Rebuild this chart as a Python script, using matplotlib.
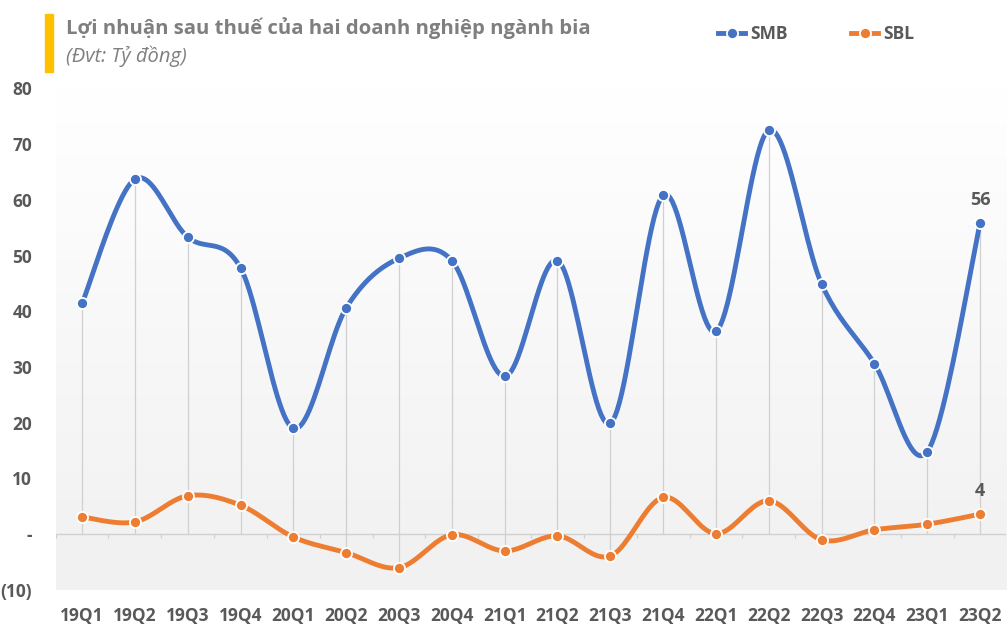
import numpy as np
import matplotlib
matplotlib.use('Agg')
import matplotlib.pyplot as plt
from matplotlib.lines import Line2D

## du lieu
quarters = ['19Q1', '19Q2', '19Q3', '19Q4', '20Q1', '20Q2', '20Q3', '20Q4', '21Q1',
            '21Q2', '21Q3', '21Q4', '22Q1', '22Q2', '22Q3', '22Q4', '23Q1', '23Q2']
smb = [41.4, 63.7, 53.3, 47.8, 19.0, 40.6, 49.5, 49.1, 28.3,
       49.1, 19.9, 60.8, 36.4, 72.5, 44.9, 30.6, 14.8, 55.8]
sbl = [3.1, 2.2, 6.9, 5.2, -0.5, -3.3, -6.0, -0.1, -3.0,
       -0.3, -3.9, 6.6, 0.1, 6.0, -1.0, 0.8, 1.8, 3.6]
yticks = [-10, 0, 10, 20, 30, 40, 50, 60, 70, 80]
ytick_labels = ['(10)', '-', '10', '20', '30', '40', '50', '60', '70', '80']

c_smb = '#4472C4'
c_sbl = '#ED7D31'
c_text = '#595959'


def smooth(x, y, n=24):
    # duong cong kieu Excel (Catmull-Rom / Bezier)
    x = np.asarray(x, float)
    y = np.asarray(y, float)
    px, py = [], []
    t = np.linspace(0, 1, n)
    for i in range(len(x) - 1):
        i0 = max(i - 1, 0)
        i3 = min(i + 2, len(x) - 1)
        p0 = np.array([x[i], y[i]])
        p3 = np.array([x[i + 1], y[i + 1]])
        c1 = p0 + (p3 - np.array([x[i0], y[i0]])) / 6
        c2 = p3 - (np.array([x[i3], y[i3]]) - p0) / 6
        b = ((1 - t) ** 3)[:, None] * p0 + (3 * (1 - t) ** 2 * t)[:, None] * c1 \
            + (3 * (1 - t) * t ** 2)[:, None] * c2 + (t ** 3)[:, None] * p3
        px.extend(b[:, 0])
        py.extend(b[:, 1])
    return np.array(px), np.array(py)


fig = plt.figure(figsize=(10.08, 6.44), dpi=100)
ax = fig.add_axes([0.0552, 0.0839, 0.9433, 0.779])

x = np.arange(len(quarters))
ax.set_xlim(-0.5, len(quarters) - 0.5)
ax.set_ylim(-10, 80)

# nen gradient
yy = np.linspace(80, -10, 300)
g = np.clip(yy / 80, 0, 1)
lvl = 0.949 + (1 - 0.949) * g
img = np.stack([lvl, lvl, lvl], axis=-1)[:, None, :].repeat(2, axis=1)
ax.imshow(img, extent=[-0.5, len(quarters) - 0.5, -10, 80], aspect='auto', zorder=0)

# drop lines
lo = np.minimum(0, sbl)
hi = np.maximum(smb, 0)
ax.vlines(x, lo, hi, color='#d0d0d0', lw=0.9, zorder=1)
ax.axhline(0, color='#d0d0d0', lw=1, zorder=1)
ax.vlines(np.arange(len(quarters) + 1) - 0.5, -0.75, 0, color='#d0d0d0', lw=0.9, zorder=1)

for vals, col in [(smb, c_smb), (sbl, c_sbl)]:
    sx, sy = smooth(x, vals)
    ax.plot(sx, sy, color=col, lw=3.5, solid_capstyle='round', zorder=3)
    ax.plot(x, vals, 'o', color=col, ms=8, mec='white', mew=1.3, zorder=4)

ax.text(x[-1], smb[-1] + 2.5, '56', ha='center', va='bottom', fontsize=13,
        fontweight='bold', color=c_text, family='Open Sans')
ax.text(x[-1], sbl[-1] + 2.5, '4', ha='center', va='bottom', fontsize=13,
        fontweight='bold', color=c_text, family='Open Sans')

ax.set_xticks(x)
ax.set_xticklabels(quarters)
ax.set_yticks(yticks)
ax.set_yticklabels(ytick_labels)
ax.tick_params(length=0)
ax.tick_params(axis='x', pad=12)
ax.tick_params(axis='y', pad=17)
for lab in ax.get_xticklabels() + ax.get_yticklabels():
    lab.set_fontweight('bold')
    lab.set_color(c_text)
    lab.set_fontsize(12.5)
    lab.set_family('Open Sans')
for s in ax.spines.values():
    s.set_visible(False)

# tieu de
fig.patches.append(plt.Rectangle((45 / 1008, 1 - 72 / 644), 8 / 1008, 58 / 644,
                                 transform=fig.transFigure, color='#FFC000'))
fig.text(66 / 1008, 1 - 28 / 644, 'Lợi nhuận sau thuế của hai doanh nghiệp ngành bia',
         fontsize=14.6, fontweight='bold', color='#7f7f7f', va='center', family='Open Sans')
fig.text(66 / 1008, 1 - 56 / 644, '(Đvt: Tỷ đồng)', fontsize=14.5, style='italic',
         color='#7f7f7f', va='center', family='Open Sans')

handles = [Line2D([], [], color=c_smb, lw=3.5, marker='o', ms=8, mec='white', mew=1.3),
           Line2D([], [], color=c_sbl, lw=3.5, marker='o', ms=8, mec='white', mew=1.3)]
leg = fig.legend(handles, ['SMB', 'SBL'], loc='center left', bbox_to_anchor=(702 / 1008, 1 - 34 / 644),
                 ncol=2, frameon=False, handlelength=1.6, columnspacing=3.6, handletextpad=0.3,
                 prop={'family': 'Open Sans', 'weight': 'bold', 'size': 12.5})
for t in leg.get_texts():
    t.set_color(c_text)

fig.savefig('out.png', dpi=100)
